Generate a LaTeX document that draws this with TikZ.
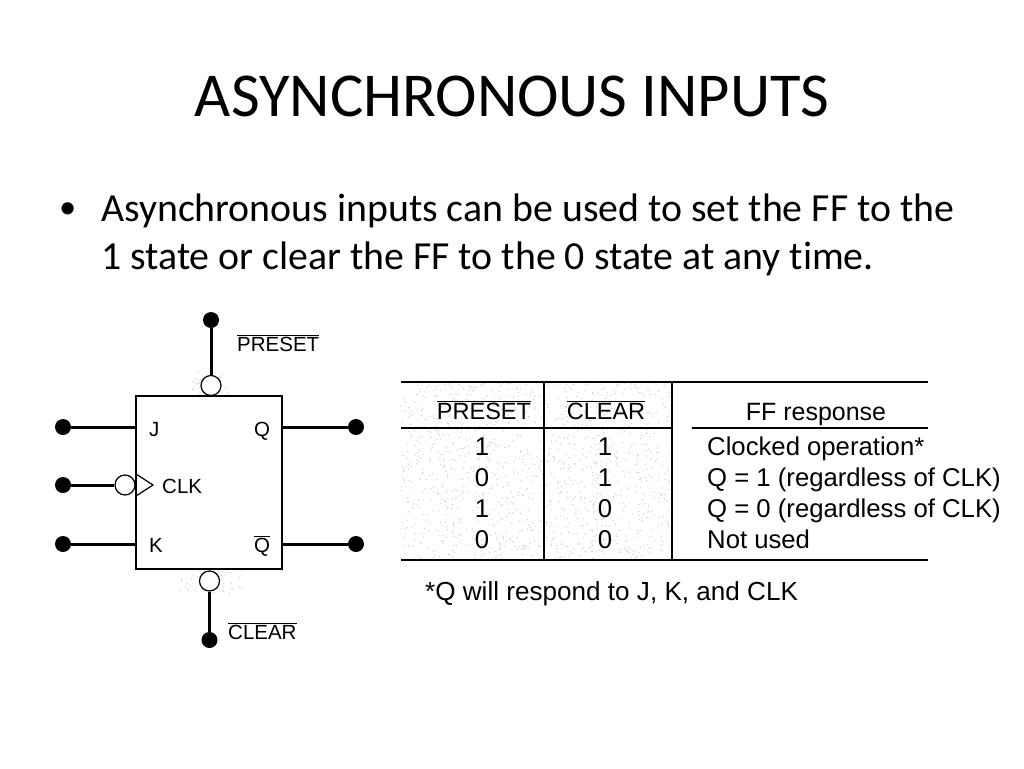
\documentclass[tikz,border=0pt]{standalone}
\usepackage{fontspec}
\setmainfont[Ligatures=NoCommon]{Carlito}
\newfontfamily\figfont{Liberation Sans}
\newcommand{\figtext}{\figfont\fontsize{20.5}{24}\selectfont}
\newcommand{\headtext}{\figfont\fontsize{23.5}{26}\selectfont}
\newcommand{\tabtext}{\figfont\fontsize{25.7}{28}\selectfont}
\begin{document}
\begin{tikzpicture}[x=1pt, y=-1pt,
    pin/.style={circle, fill=black, inner sep=0pt, minimum size=16pt},
    bubble/.style={circle, draw=black, fill=white, line width=1.2pt, inner sep=0pt, minimum size=20pt},
    wire/.style={line width=3pt},
    rule/.style={line width=1.6pt},
    speck/.style={fill=black!20},
    lbl/.style={font=\figtext, inner sep=0pt, anchor=base west},
    head/.style={font=\headtext, inner sep=0pt, anchor=base},
    cell/.style={font=\tabtext, inner sep=0pt, anchor=base},
    resp/.style={font=\tabtext, inner sep=0pt, anchor=base west}]
    \useasboundingbox (0,0) rectangle (1024,768);
    % Slide text
    \node[inner sep=0pt, anchor=base, font=\fontsize{62.5}{68}\selectfont] (title) at (512,116) {ASYNCHRONOUS INPUTS};
    \node[inner sep=0pt, anchor=base west, font=\fontsize{34.5}{40}\selectfont] (bullet) at (59,218) {•};
    \node[inner sep=0pt, anchor=base west, font=\fontsize{39.8}{48}\selectfont] (line1) at (101,221) {Asynchronous inputs can be used to set the FF to the};
    \node[inner sep=0pt, anchor=base west, font=\fontsize{39.8}{48}\selectfont] (line2) at (101,269) {1 state or clear the FF to the 0 state at any time.};
    % Shading
    \pgfmathsetseed{7}
    \foreach \i in {1,...,1300} {\fill[speck] (401+rnd*271,382+rnd*178) circle (0.7);}
    \foreach \i in {1,...,40} {\fill[speck] (192+rnd*36,372+rnd*24) circle (0.7);}
    \foreach \i in {1,...,50} {\fill[speck] (178+rnd*64,569+rnd*24) circle (0.7);}
    % Flip-flop
    \node[draw=black, line width=1.6pt, fill=white, minimum width=146pt, minimum height=173pt, inner sep=0pt] (ff) at (209,482.5) {};
    \node[pin] (presetpin) at (211,320) {};
    \node[pin] (clearpin) at (209.5,640) {};
    \node[pin] (jpin) at (63,427) {};
    \node[pin] (clkpin) at (63,485) {};
    \node[pin] (kpin) at (63,544) {};
    \node[pin] (qpin) at (356,427) {};
    \node[pin] (qbarpin) at (356,544) {};
    \node[bubble] (presetbub) at (211,385.5) {};
    \node[bubble] (clearbub) at (209.5,581) {};
    \node[bubble] (clkbub) at (125,485) {};
    \coordinate (jend) at (ff.west |- jpin);
    \coordinate (kend) at (ff.west |- kpin);
    \coordinate (qend) at (ff.east |- qpin);
    \coordinate (qbarend) at (ff.east |- qbarpin);
    \draw[wire] (presetpin) -- (presetbub);
    \draw[wire] (clearpin) -- (clearbub);
    \draw[wire] (clkpin) -- (clkbub);
    \draw[wire] (jpin) -- (jend);
    \draw[wire] (kpin) -- (kend);
    \draw[wire] (qpin) -- (qend);
    \draw[wire] (qbarpin) -- (qbarend);
    \draw[line width=1.2pt] (136,474) -- (153,485) -- (136,496);
    % Flip-flop labels
    \node[lbl] (jlbl) at (149,436) {J};
    \node[lbl] (qlbl) at (254,436) {Q};
    \node[lbl] (clklbl) at (162,493) {CLK};
    \node[lbl] (klbl) at (149,552) {K};
    \node[lbl] (qbarlbl) at (254,552) {$\overline{\mbox{Q}}$};
    \node[lbl] (presetlbl) at (237,351) {$\overline{\mbox{PRESET}}$};
    \node[lbl] (clearlbl) at (228,639) {$\overline{\mbox{CLEAR}}$};
    % Table rules
    \draw[rule] (401,382) -- (928,382);
    \draw[rule] (401,428) -- (672,428);
    \draw[rule] (692,428) -- (928,428);
    \draw[rule] (401,560) -- (928,560);
    \draw[rule] (544,382) -- (544,560);
    \draw[rule] (672,382) -- (672,560);
    % Table header
    \node[head] (presethead) at (484,419) {$\overline{\mbox{PRESET}}$};
    \node[head] (clearhead) at (606,419) {$\overline{\mbox{CLEAR}}$};
    \node[cell, font=\figfont\fontsize{25}{28}\selectfont] (resphead) at (816,420) {FF response};
    % Table rows
    \node[cell] (a1) at (482,455) {1};
    \node[cell] (b1) at (605,455) {1};
    \node[resp] (c1) at (707,455) {Clocked operation*};
    \node[cell] (a2) at (482,486) {0};
    \node[cell] (b2) at (605,486) {1};
    \node[resp] (c2) at (707,486) {Q = 1 (regardless of CLK)};
    \node[cell] (a3) at (482,517) {1};
    \node[cell] (b3) at (605,517) {0};
    \node[resp] (c3) at (707,517) {Q = 0 (regardless of CLK)};
    \node[cell] (a4) at (482,548) {0};
    \node[cell] (b4) at (605,548) {0};
    \node[resp] (c4) at (707,548) {Not used};
    % Footnote
    \node[resp, font=\figfont\fontsize{26.1}{28}\selectfont] (note) at (425,600) {*Q will respond to J, K, and CLK};
\end{tikzpicture}
\end{document}
